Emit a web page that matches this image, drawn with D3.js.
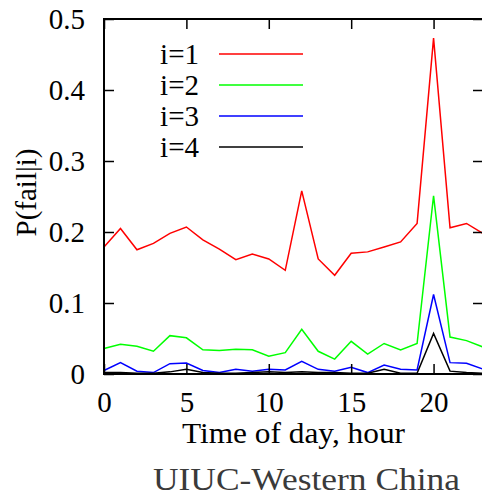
<!DOCTYPE html>
<html>
<head>
<meta charset="utf-8">
<script src="https://cdn.jsdelivr.net/npm/d3@7"></script>
</head>
<body style="margin:0">
<svg id="chart" width="482" height="496"></svg>
<script>
const hours = d3.range(0, 24);
const seriesNames = ["i=1", "i=2", "i=3", "i=4"];
const seriesColors = ["#ff0000", "#00ff00", "#0000ff", "#000000"];
const i1 = [0.179, 0.205, 0.175, 0.184, 0.198, 0.207, 0.189, 0.176, 0.161, 0.169, 0.162, 0.146,
            0.258, 0.162, 0.139, 0.170, 0.172, 0.179, 0.186, 0.212, 0.473, 0.206, 0.212, 0.198];
const i2 = [0.036, 0.042, 0.039, 0.032, 0.054, 0.051, 0.034, 0.033, 0.035, 0.034, 0.025, 0.030,
            0.063, 0.032, 0.021, 0.046, 0.028, 0.043, 0.034, 0.043, 0.251, 0.052, 0.047, 0.038];
const i3 = [0.005, 0.016, 0.004, 0.002, 0.0145, 0.0155, 0.005, 0.002, 0.0066, 0.004, 0.0066, 0.0056,
            0.018, 0.0066, 0.004, 0.0094, 0.002, 0.0127, 0.0066, 0.0056, 0.112, 0.016, 0.015, 0.007];
const i4 = [0.002, 0.002, 0.001, 0.001, 0.003, 0.0066, 0.002, 0.001, 0.001, 0.002, 0.003, 0.002,
            0.003, 0.002, 0.002, 0.001, 0.001, 0.0066, 0.001, 0.001, 0.057, 0.004, 0.002, 0.001];
const seriesValues = [i1, i2, i3, i4];
const xTicks = [0, 5, 10, 15, 20];
const yTicks = [0, 0.1, 0.2, 0.3, 0.4, 0.5];
const xLabel = "Time of day, hour";
const yLabel = "P(fail|i)";
const caption = "UIUC-Western China";

const FONT = "Liberation Serif";
const svg = d3.select("#chart");
const L = 104, R = 483, T = 19, B = 374;
const x = d3.scaleLinear().domain([0, 23]).range([L, R]);
const y = d3.scaleLinear().domain([0, 0.5]).range([B, T]);
const fs = 29, tickLen = 10;

// lines
const line = d3.line().x((d, i) => x(hours[i])).y(d => y(d));
seriesValues.forEach((vals, k) => {
  svg.append("path").datum(vals)
    .attr("d", line)
    .attr("fill", "none")
    .attr("stroke", seriesColors[k])
    .attr("stroke-width", 1.5)
    .attr("stroke-linejoin", "miter");
});

// axes (inward ticks)
const gB = svg.append("g").attr("transform", `translate(0,${B})`)
  .call(d3.axisBottom(x).tickValues(xTicks).tickSize(-tickLen).tickFormat(d3.format("d")));
const gT = svg.append("g").attr("transform", `translate(0,${T})`)
  .call(d3.axisTop(x).tickValues(xTicks).tickSize(-tickLen).tickFormat(""));
const gL = svg.append("g").attr("transform", `translate(${L},0)`)
  .call(d3.axisLeft(y).tickValues(yTicks).tickSize(-tickLen).tickFormat(d => d === 0 ? "0" : d3.format(".1f")(d)));
const gR = svg.append("g").attr("transform", `translate(${R},0)`)
  .call(d3.axisRight(y).tickValues(yTicks).tickSize(-tickLen).tickFormat(""));
[gB, gT, gL, gR].forEach(g => {
  g.attr("font-family", FONT).attr("font-size", fs);
  g.select(".domain").remove();
  g.selectAll(".tick line").attr("stroke", "#000").attr("stroke-width", 1.5);
  g.selectAll("text").attr("fill", "#000").attr("font-family", FONT).attr("font-size", fs);
});
gB.selectAll("text").attr("dy", "0.71em").attr("y", 17);
gL.selectAll("text").attr("dy", "0.34em").attr("x", -19);

// frame
svg.append("rect").attr("x", L).attr("y", T).attr("width", R - L).attr("height", B - T)
  .attr("fill", "none").attr("stroke", "#000").attr("stroke-width", 2);

// legend
seriesNames.forEach((name, k) => {
  const ly = 54 + k * 31;
  svg.append("text").attr("x", 199).attr("y", ly).attr("dy", "0.34em")
    .attr("text-anchor", "end").attr("font-family", FONT).attr("font-size", fs).text(name);
  svg.append("line").attr("x1", 219).attr("x2", 303).attr("y1", ly).attr("y2", ly)
    .attr("stroke", seriesColors[k]).attr("stroke-width", 1.5);
});

// axis labels
svg.append("text").attr("x", 182).attr("y", 443)
  .attr("textLength", 223).attr("lengthAdjust", "spacingAndGlyphs")
  .attr("font-family", FONT).attr("font-size", fs).text(xLabel);
svg.append("text").attr("transform", `translate(36,${(T + B) / 2 - 4}) rotate(-90)`)
  .attr("text-anchor", "middle").attr("font-family", FONT).attr("font-size", fs).text(yLabel);
svg.append("text").attr("x", 153).attr("y", 490)
  .attr("textLength", 307).attr("lengthAdjust", "spacingAndGlyphs")
  .attr("font-family", FONT).attr("font-size", 32).attr("fill", "#3a3a3a").text(caption);
</script>
</body>
</html>
